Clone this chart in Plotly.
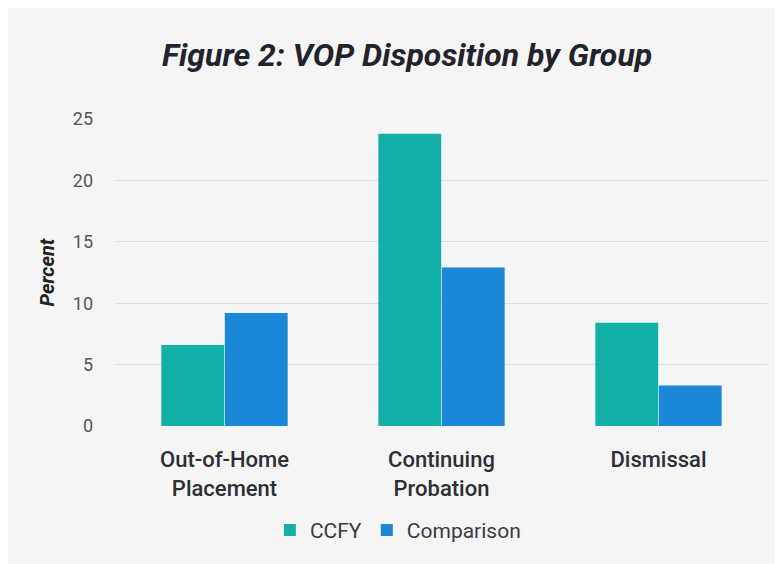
import plotly.graph_objects as go

categories = ["Out-of-Home<br>Placement", "Continuing<br>Probation", "Dismissal"]
ccfy = [6.6, 23.8, 8.4]
comparison = [9.2, 12.9, 3.3]
y_ticks = [0, 5, 10, 15, 20, 25]

fig = go.Figure()
fig.add_trace(go.Bar(name="CCFY", x=categories, y=ccfy, marker_color="#11b1a7",
                     marker_line_width=0))
fig.add_trace(go.Bar(name="Comparison", x=categories, y=comparison, marker_color="#1b87d9",
                     marker_line_width=0))

fig.update_layout(
    width=775, height=556,
    barmode="group", bargap=0.415, bargroupgap=0.01,
    paper_bgcolor="#f5f5f5", plot_bgcolor="#f5f5f5",
    margin=dict(l=108, r=16, t=111, b=138),
    title=dict(text="<b><i>Figure 2: VOP Disposition by Group</i></b>",
               x=0.515, xanchor="center", y=0.915, yanchor="middle",
               font=dict(family="Roboto", size=32, color="#23232e")),
    font=dict(family="Roboto"),
    legend=dict(orientation="h", x=0.433, xanchor="center", y=-0.34, yanchor="middle",
                font=dict(size=21, color="#3a3a45"), bgcolor="rgba(0,0,0,0)",
                itemwidth=30, traceorder="normal"),
    showlegend=True,
)
fig.update_yaxes(range=[0, 25], tickvals=y_ticks, showgrid=True, gridcolor="#dcdcdc",
                 gridwidth=1, zeroline=False, showline=False,
                 tickfont=dict(size=18, color="#555555"), ticks="", ticklabelstandoff=22,
                 title=dict(text="<b><i>Percent</i></b>", font=dict(size=20, color="#222222"),
                            standoff=12))
fig.update_xaxes(showgrid=False, showline=False, zeroline=False, ticks="",
                 ticklabelstandoff=18,
                 tickfont=dict(size=22, color="#2e2e36", weight=500))

fig.write_html("out.html")
